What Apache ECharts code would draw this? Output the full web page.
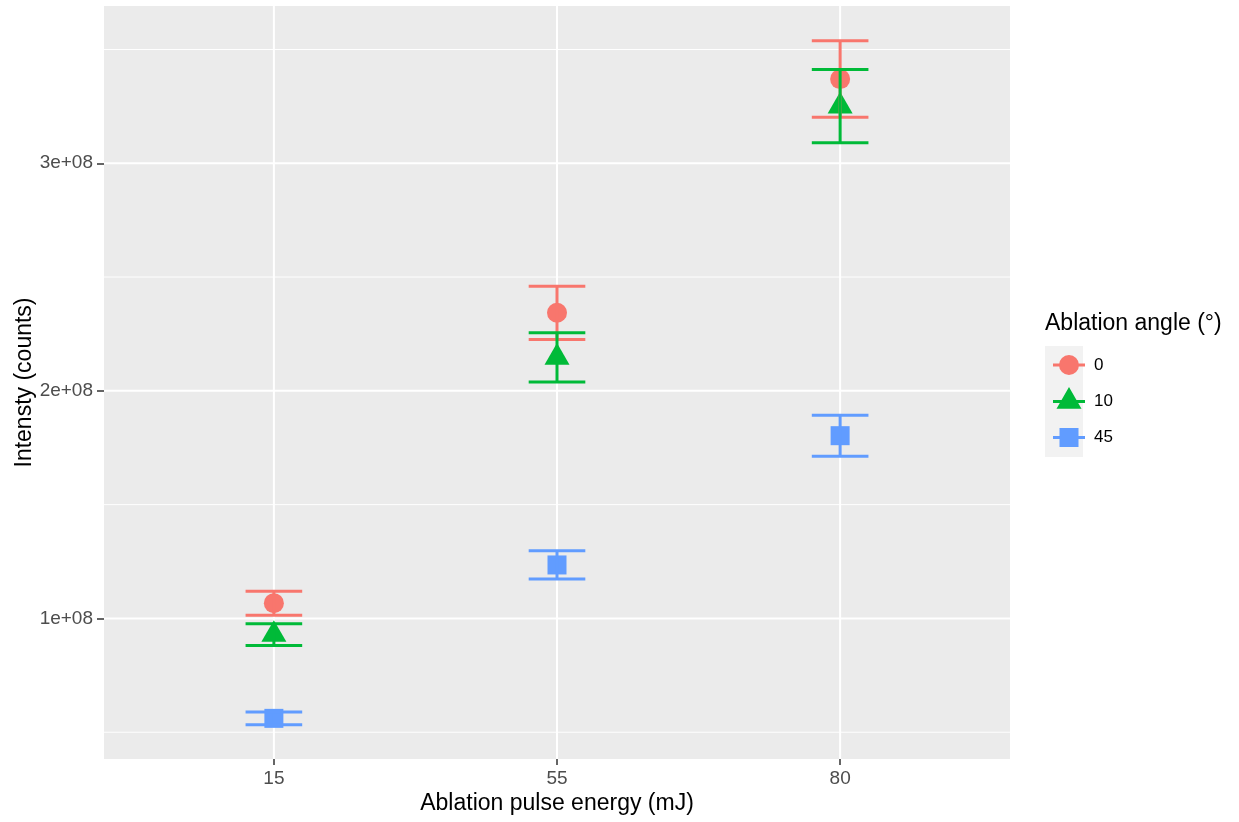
<!DOCTYPE html>
<html><head><meta charset="utf-8">
<script src="https://cdn.jsdelivr.net/npm/echarts@6/dist/echarts.min.js"></script>
<style>html,body{margin:0;padding:0;background:#fff;} #c{width:1239px;height:822px;}</style>
</head><body><div id="c"></div>
<script>
// ---- data ----
const energies = ['15', '55', '80'];          // x category labels (mJ)
const energyPos = [1, 2, 3];                   // discrete positions
const angles = ['0', '10', '45'];              // legend groups (degrees)
const mean0  = [1.067e8, 2.343e8, 3.370e8];
const se0    = [0.053e8, 0.117e8, 0.168e8];
const mean10 = [0.929e8, 2.147e8, 3.251e8];
const se10   = [0.048e8, 0.108e8, 0.161e8];
const mean45 = [0.561e8, 1.235e8, 1.803e8];
const se45   = [0.028e8, 0.062e8, 0.090e8];
const yTickValues = [1e8, 2e8, 3e8];
const yTickLabels = ['1e+08', '2e+08', '3e+08'];
const yMinorValues = [0.5e8, 1.5e8, 2.5e8, 3.5e8];

// ---- styling ----
const FONT = '"Liberation Sans", Arial, sans-serif';
const colors = ['#F8766D', '#00BA38', '#619CFF'];
const means = [mean0, mean10, mean45];
const ses = [se0, se10, se45];
const symbols = ['circle', 'triangle', 'rect'];
const symbolSizes = [20, [25, 21.7], 19];
const symbolOffsets = [[0, 0], [0, -3.6], [0, 0]];
const legendIcons = [
  'path://M0,9.5L32,9.5L32,12.5L0,12.5Z M6,11A10,10 0 1,1 26,11A10,10 0 1,1 6,11Z',
  'path://M0,13L32,13L32,16L0,16Z M16,0L28.5,21.7L3.5,21.7Z M16,29L16.01,29L16.01,29.01Z',
  'path://M0,9.5L32,9.5L32,12.5L0,12.5Z M6.5,1.5L25.5,1.5L25.5,20.5L6.5,20.5Z'
];

function gridLineSeries(values, horizontal, width) {
  return {
    type: 'custom', silent: true, z: 1, animation: false,
    data: values.map(v => horizontal ? [2, v] : [v, 2e8]),
    encode: { x: 0, y: 1 },
    renderItem: function (params, api) {
      const cs = params.coordSys;
      const p = api.coord([api.value(0), api.value(1)]);
      const shape = horizontal
        ? { x1: cs.x, y1: p[1], x2: cs.x + cs.width, y2: p[1] }
        : { x1: p[0], y1: cs.y, x2: p[0], y2: cs.y + cs.height };
      return { type: 'line', shape: shape, style: { stroke: '#FFFFFF', lineWidth: width } };
    }
  };
}

const series = [
  gridLineSeries(yMinorValues, true, 1),
  gridLineSeries(yTickValues, true, 2),
  gridLineSeries(energyPos, false, 2)
];

angles.forEach((a, i) => {
  series.push({
    type: 'scatter', name: a, z: 2, animation: false,
    symbol: symbols[i], symbolSize: symbolSizes[i], symbolOffset: symbolOffsets[i],
    itemStyle: { color: colors[i], opacity: 1 },
    data: energyPos.map((x, j) => [x, means[i][j]])
  });
});
angles.forEach((a, i) => {
  series.push({
    type: 'custom', name: a + ' err', z: 3, animation: false, silent: true,
    data: energyPos.map((x, j) => [x, means[i][j] - ses[i][j], means[i][j] + ses[i][j]]),
    encode: { x: 0, y: [1, 2] },
    renderItem: function (params, api) {
      const x = api.value(0);
      const lo = api.coord([x, api.value(1)]);
      const hi = api.coord([x, api.value(2)]);
      const hw = api.size([0.1, 0])[0];
      const st = { stroke: colors[i], lineWidth: 3 };
      return {
        type: 'group', children: [
          { type: 'line', shape: { x1: lo[0], y1: hi[1], x2: lo[0], y2: lo[1] }, style: st },
          { type: 'line', shape: { x1: lo[0] - hw, y1: hi[1], x2: lo[0] + hw, y2: hi[1] }, style: st },
          { type: 'line', shape: { x1: lo[0] - hw, y1: lo[1], x2: lo[0] + hw, y2: lo[1] }, style: st }
        ]
      };
    }
  });
});

const chart = echarts.init(document.getElementById('c'), null, { renderer: 'canvas' });
chart.setOption({
  animation: false,
  backgroundColor: '#FFFFFF',
  textStyle: { fontFamily: FONT },
  grid: { left: 104, top: 6, width: 906, height: 753, show: true, backgroundColor: '#EBEBEB', borderWidth: 0, containLabel: false, outerBoundsMode: 'none' },
  xAxis: {
    type: 'value', min: 0.4, max: 3.6,
    name: 'Ablation pulse energy (mJ)', nameLocation: 'middle', nameGap: 33, nameMoveOverlap: false,
    nameTextStyle: { fontSize: 23, color: '#000', fontFamily: FONT },
    axisLine: { show: false },
    axisTick: { show: true, customValues: energyPos, length: 6, lineStyle: { color: '#333', width: 1.5 } },
    axisLabel: { customValues: energyPos, formatter: v => energies[energyPos.indexOf(v)], fontSize: 19, color: '#4D4D4D', margin: 10, fontFamily: FONT },
    splitLine: { show: false }
  },
  yAxis: {
    type: 'value', min: 38240000, max: 369100000,
    name: 'Intensty (counts)', nameLocation: 'middle', nameGap: 68, nameMoveOverlap: false,
    nameTextStyle: { fontSize: 23, color: '#000', fontFamily: FONT },
    axisLine: { show: false },
    axisTick: { show: true, customValues: yTickValues, length: 7, lineStyle: { color: '#333', width: 1.5 } },
    axisLabel: { customValues: yTickValues, formatter: v => yTickLabels[yTickValues.indexOf(v)], fontSize: 19, color: '#4D4D4D', margin: 11, fontFamily: FONT },
    splitLine: { show: false }
  },
  legend: {
    orient: 'vertical', left: 1048, top: 350, itemWidth: 32, itemHeight: 30, itemGap: 12,
    selectedMode: false,
    textStyle: { fontSize: 17, color: '#000', fontFamily: FONT, padding: [0, 0, 0, 4] },
    data: angles.map((a, i) => ({ name: a, icon: legendIcons[i] }))
  },
  graphic: [
    { type: 'rect', left: 1045, top: 346, z: -10, shape: { width: 38, height: 111 }, style: { fill: '#F2F2F2' } },
    { type: 'text', left: 1045, top: 312, style: { text: 'Ablation angle (°)', font: '23px "Liberation Sans", Arial, sans-serif', fill: '#000' } }
  ],
  series: series
});
</script>
</body></html>
